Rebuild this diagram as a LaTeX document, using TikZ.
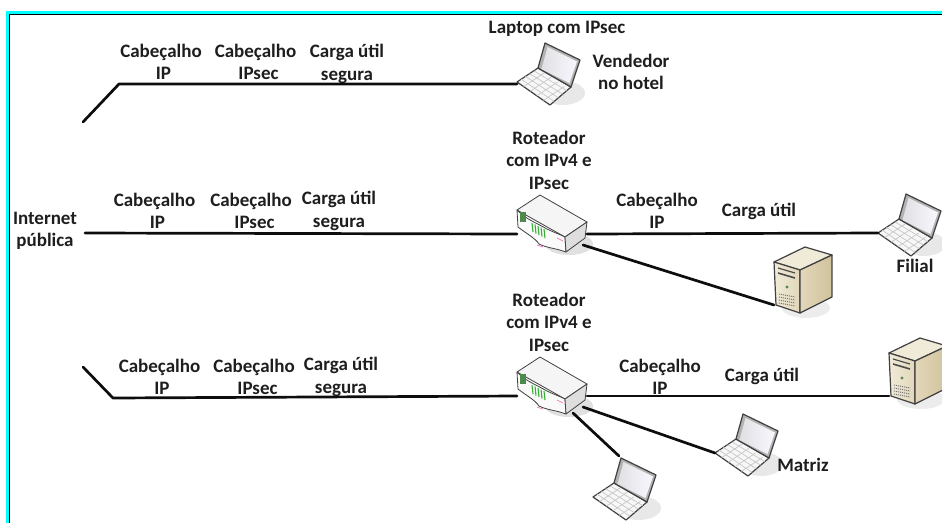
\documentclass[tikz,border=0pt]{standalone}
\usepackage{fontspec}
\setmainfont{Carlito}
\definecolor{framecyan}{RGB}{0,255,255}
\definecolor{inktext}{RGB}{30,30,30}
\definecolor{cased}{RGB}{240,234,216}
\definecolor{casem}{RGB}{226,215,186}
\definecolor{cases}{RGB}{208,194,156}
\tikzset{
  rotulo/.style={font=\bfseries\fontsize{19}{22.5}\selectfont, text=inktext, align=center, inner sep=0pt},
  link/.style={line width=2.7pt, line cap=round, line join=round, black!95},
  outline/.style={draw=black!75, line width=1.2pt, line join=round},
  laptop/.pic={
    \fill[black!15, opacity=.6] (46,11) ellipse [x radius=22, y radius=12];
    \filldraw[outline, fill=black!3] (0,0) -- (33,23) -- (54,5) -- (21,-14) -- cycle;
    \foreach \t in {.2,.4,.6,.8} {
      \draw[black!22, line width=.7pt] ({33*\t},{23*\t}) -- ({21+33*\t},{-14+23*\t});
      \draw[black!22, line width=.7pt] ({21*\t},{-14*\t}) -- ({33+21*\t},{23-18*\t});
    }
    \filldraw[outline, fill=black!30] (21,-14) -- (28,-39) -- (63,-22) -- (54,5) -- cycle;
    \shade[left color=blue!10!black!12, right color=blue!3] (24.5,-13) -- (30.5,-35) -- (60,-20.5) -- (52.5,1) -- cycle;
    \coordinate (-port) at (0,0);
    \coordinate (-top) at (26,-41);
  },
  router/.pic={
    \fill[black!20, opacity=.6] (52,34) ellipse [x radius=24, y radius=11];
    \filldraw[outline, line width=.8pt, fill=black!4] (0,0) -- (23,-15) -- (70,12) -- (48,27) -- cycle;
    \filldraw[outline, line width=.8pt, fill=black!2] (0,0) .. controls (10,10) and (18,12) .. (30,19) .. controls (36,22) and (42,24) .. (48,27)
      -- (49,42) .. controls (38,38) and (30,38) .. (22,34) .. controls (18,28) and (10,24) .. (1,17) -- cycle;
    \filldraw[outline, line width=.8pt, fill=black!13] (48,27) -- (70,12) -- (68,28) -- (49,42) -- cycle;
    \fill[green!35!black!70] (3,2) rectangle (9,12);
    \foreach \t in {15,18,21,24,27} \draw[green!60!black!80, line width=1.1pt] (\t,{13+.5*(\t-15)}) -- ++(1,9);
    \draw[magenta!50, line width=.8pt] (20,35) -- (26,37);
    \draw[magenta!50, line width=.8pt] (40,28) -- (46,31);
    \coordinate (-in) at (0,24);
    \coordinate (-out) at (70,24);
    \coordinate (-side) at (66,35);
    \coordinate (-foot) at (56,41);
  },
  server/.pic={
    \fill[black!12, opacity=.6] (32,46) ellipse [x radius=24, y radius=10];
    \filldraw[outline, fill=cased] (0,0) -- (31,-15) -- (58,-7) -- (26,8) -- cycle;
    \shade[outline, left color=cased, right color=casem] (0,0) -- (26,8) -- (26,51) -- (2,43) -- cycle;
    \shade[outline, left color=casem, right color=cases] (26,8) -- (58,-7) -- (58,35) -- (26,51) -- cycle;
    \draw[black!70, line width=1.2pt] (4,6) -- (21,11);
    \draw[black!70, line width=1.6pt] (4,11) -- (21,16);
    \fill[green!35!black!70] (13,25) circle [radius=1.7];
    \foreach \t in {32,35,38,41} \draw[black!55, line width=1pt, densely dotted] (5,\t) -- (21,\t+3);
    \coordinate (-port) at (0,43);
  }
}
\begin{document}
\begin{tikzpicture}[x=1pt, y=-1pt, node distance=100pt]
\useasboundingbox (0,0) rectangle (942,523);
\clip (0,0) rectangle (942,523);
% frame
\fill[framecyan] (6,11) rectangle (942,14);
\fill[framecyan] (6,11) rectangle (9,523);
\fill[black] (9,14) rectangle (942,15);
\fill[black] (9,14) rectangle (10,523);
% equipment
\pic (vendedor) at (517,82) {laptop};
\pic (roteadorA) at (517,210) {router};
\pic (filial) at (878,233) {laptop};
\pic (servidorA) at (774,262) {server};
\pic (roteadorB) at (517,372) {router};
\pic (servidorB) at (889,353) {server};
\pic (matriz) at (715,453) {laptop};
\pic (estacao) at (593,497) {laptop};
% row 1
\node[rotulo] (capA) at (161,62) {Cabeçalho\\\hspace*{5pt}IP};
\node[rotulo, right of=capA, xshift=-5.5pt] (secA) {Cabeçalho\\\hspace*{6pt}IPsec};
\node[rotulo, right of=secA, xshift=-8.5pt, yshift=-2pt] (dadoA) {Carga útil\\segura};
\node[rotulo] (laptopsec) at (557,29) {Laptop com IPsec};
\node[rotulo] (hotel) at (631,72) {Vendedor\\no hotel};
% row 2
\node[rotulo] (internet) at (45,231) {Internet\\pública};
\node[rotulo] (capB) at (154.5,211) {Cabeçalho\\\hspace*{6pt}IP};
\node[rotulo, right of=capB, xshift=-3.5pt] (secB) {Cabeçalho\\\hspace*{7pt}IPsec};
\node[rotulo, right of=secB, xshift=-12pt] (dadoB) {Carga útil\\segura};
\node[rotulo] (roteA) at (549,160) {Roteador\\com IPv4 e\\IPsec};
\node[rotulo] (capC) at (657,211) {Cabeçalho\\IP};
\node[rotulo, right of=capC, xshift=2pt] (dadoC) {Carga útil};
\node[rotulo] (filiallbl) at (915,266) {Filial};
% row 3
\node[rotulo] (capD) at (159.5,377) {Cabeçalho\\\hspace*{5pt}IP};
\node[rotulo, right of=capD, xshift=-5.5pt] (secD) {Cabeçalho\\\hspace*{7pt}IPsec};
\node[rotulo, right of=secD, xshift=-13pt] (dadoD) {Carga útil\\segura};
\node[rotulo] (roteB) at (549,322) {Roteador\\com IPv4 e\\IPsec};
\node[rotulo] (capE) at (660,377) {Cabeçalho\\IP};
\node[rotulo, right of=capE, xshift=2pt, yshift=1pt] (dadoE) {Carga útil};
\node[rotulo] (matrizlbl) at (803,465) {Matriz};
% free ends of the trunks
\coordinate (netA) at (83,122);
\coordinate (bendA) at (119,84);
\coordinate (netB) at (85,233);
\coordinate (netC) at (83,367);
\coordinate (bendC) at (113,398);
\draw[link] (netA) -- (bendA) -- (bendA -| vendedor-port);
\draw[link] (netB) -- (roteadorA-in);
\draw[link] (netC) -- (bendC) -- (roteadorB-in);
\draw[link] (roteadorA-out) -- (filial-port);
\draw[link] (roteadorA-side) -- (servidorA-port);
\draw[link] (roteadorB-out) -- (servidorB-port);
\draw[link] (roteadorB-side) -- (matriz-port);
\draw[link] (roteadorB-foot) -- (estacao-top);
\end{tikzpicture}
\end{document}
